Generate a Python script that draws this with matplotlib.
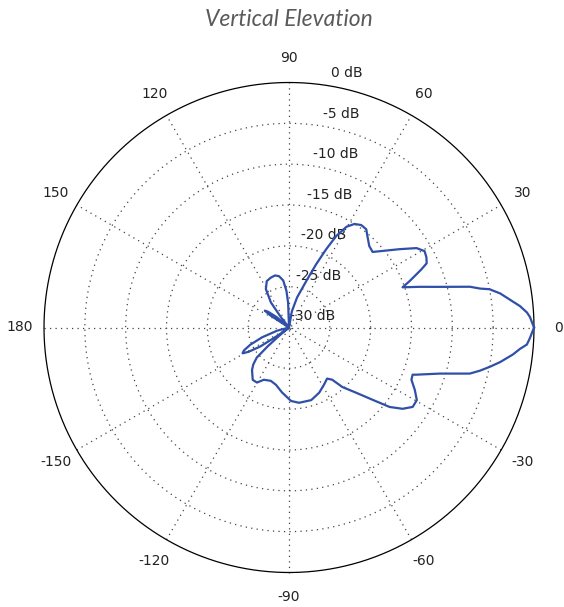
import matplotlib
matplotlib.use('Agg')
import matplotlib.pyplot as plt
import numpy as np

# antenna pattern, angle in degrees and level in dB (clipped at -30 dB)
angles = [0, 2.5, 3.6, 5.3, 6.6, 9.15, 10.8, 11.5, 12.7, 15.1, 17.3, 19.5, 21.0, 23.7,
          25.0, 27.1, 29.4, 31.9, 35.3, 39.3, 42.1, 45.4, 49.4, 51.8, 54.8, 57.7, 60.3,
          62.7, 64.6, 66.8, 69.7, 75, 80, 85, 90, 92, 94, 97, 101, 105, 110, 115.6, 121,
          125.8, 128, 130, 136, 140, 143, 145, 147, 150, 170, 190, 195, 200, 204, 207,
          209, 211, 213.5, 216, 218, 220, 221.5, 223, 226, 229, 235.3, 239.8, 244.3,
          251.2, 257.2, 263.9, 271.6, 277.6, 287, 294.8, 301.6, 306.7, 309.6, 311.9,
          315.9, 319.1, 321.7, 324.4, 327.3, 330.4, 333.6, 336.9, 339.1, 339.7, 343,
          345.7, 347.3, 349, 350.7, 353.1, 354.7, 355.9, 357.5, 360]
levels = [0, -0.47, -0.8, -1.6, -2.4, -3.8, -5.0, -6.1, -7.3, -10.9, -13.25, -15.25,
          -14.2, -12.3, -11.4, -11.1, -10.95, -11.6, -13.4, -15.2, -16.2, -16.0, -15.25,
          -14.7, -14.65, -15.0, -15.8, -17.4, -19.4, -21.6, -24.0, -26.2, -28.0, -30, -30,
          -27, -25.5, -24.2, -23.6, -23.4, -23.5, -23.7, -24.5, -26.2, -28.3, -30, -30,
          -28, -26.8, -26.4, -27.2, -30, -30, -30, -28.5, -26.5, -24.8, -23.8, -23.5,
          -24.2, -25.8, -28.5, -30, -28.5, -26.5, -24.6, -23.7, -23.1, -22.2, -22.2,
          -22.9, -23.1, -22.8, -22.0, -21.0, -20.7, -20.7, -21.2, -21.8, -22.2, -21.7,
          -20.2, -18.5, -16.5, -14.3, -12.9, -12.0, -12.0, -12.8, -13.7, -13.8, -13.35,
          -10.7, -7.15, -6.0, -4.9, -3.8, -2.4, -1.6, -0.8, -0.47, 0]

ring_db = [0, -5, -10, -15, -20, -25, -30]
spoke_angles = [0, 30, 60, 90, 120, 150]
angle_labels = ['0', '30', '60', '90', '120', '150', '180', '-150', '-120', '-90', '-60', '-30']

rmax = 30.0
W, H = 564, 607
cx, cy = 289, 327.5          # pixel position of the centre
scale = 245 / rmax           # pixels per dB

fig = plt.figure(figsize=(W / 100, H / 100), dpi=100)
ax = fig.add_axes([0, 0, 1, 1])
ax.set_axis_off()
ax.set_xlim(-cx / scale, (W - cx) / scale)
ax.set_ylim(-(H - cy) / scale, cy / scale)

dot = (0, (1, 3.4))
t = np.linspace(0, 2 * np.pi, 400)

# dotted rings
for d in ring_db[1:-1]:
    r = d + rmax
    ax.plot(r * np.cos(t), r * np.sin(t), color='#444444', lw=0.9, ls=dot, zorder=1)
# outer circle
ax.plot(rmax * np.cos(t), rmax * np.sin(t), color='black', lw=0.9, zorder=2)

# spokes
for a in spoke_angles:
    c, s = np.cos(np.radians(a)), np.sin(np.radians(a))
    ax.plot([-rmax * c, rmax * c], [-rmax * s, rmax * s], color='#444444', lw=0.9, ls=dot, zorder=1)

# angle labels
for i, lab in enumerate(angle_labels):
    a = np.radians(30 * i)
    ax.text(1.1 * rmax * np.cos(a), 1.1 * rmax * np.sin(a), lab, ha='center', va='center',
            fontsize=10, color='#222222')

# dB labels along the 82 deg line
c82, s82 = np.cos(np.radians(82)), np.sin(np.radians(82))
for d in ring_db:
    r = d + rmax
    ax.text(r * c82 + 2.9, r * s82 + 1.4, '%d dB' % d, ha='center', va='center',
            fontsize=10, color='#222222', zorder=3)

# pattern
th = np.radians(angles)
rr = np.clip(np.array(levels) + rmax, 0, None)
ax.plot(rr * np.cos(th), rr * np.sin(th), color='#2f4fa8', lw=1.6, zorder=4,
        solid_joinstyle='round')

fig.text(cx / W, 1 - 20 / H, 'Vertical Elevation', ha='center', va='center',
         fontsize=16.5, style='italic', color='#5a5a5a', family='Lato')

fig.savefig('out.png', dpi=100)
